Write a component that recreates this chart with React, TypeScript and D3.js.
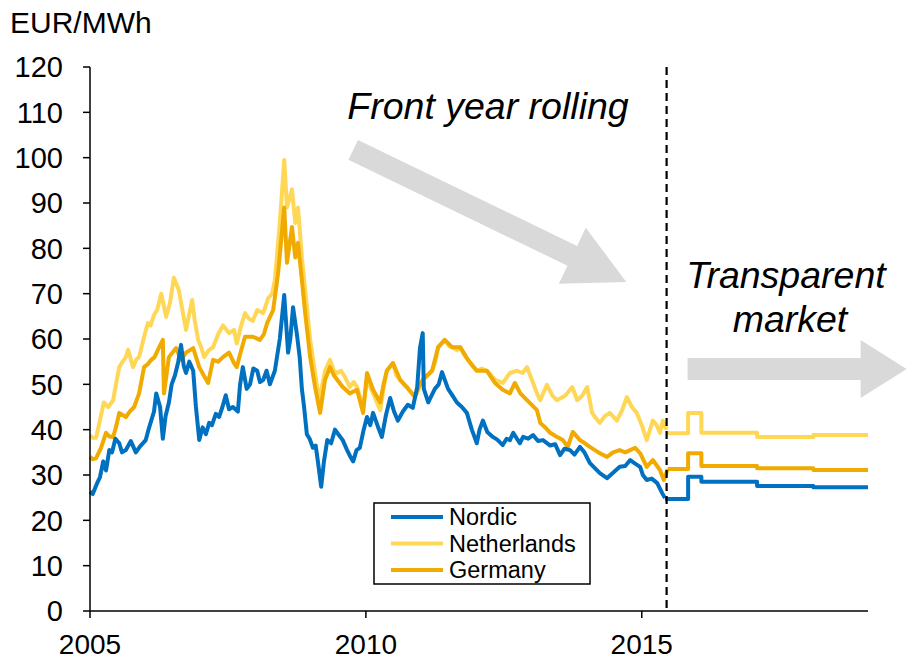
import * as d3 from "d3";
import React from "react";

// chart values: [year, EUR/MWh]
const nordicHist: [number, number][] = [
  [2005.0, 26.3], [2005.05, 25.8], [2005.09, 27], [2005.14, 28.5], [2005.18, 29.5], [2005.24, 33], [2005.29, 31],
  [2005.35, 35.5], [2005.4, 35], [2005.46, 38], [2005.53, 37], [2005.58, 35], [2005.65, 35.5], [2005.74, 37.5],
  [2005.83, 35], [2005.92, 36.5], [2006.01, 37.7], [2006.06, 40], [2006.11, 42], [2006.16, 44],
  [2006.2, 48], [2006.27, 45], [2006.32, 38], [2006.37, 43], [2006.43, 46], [2006.48, 50], [2006.54, 52],
  [2006.6, 55], [2006.65, 58.7], [2006.7, 54], [2006.74, 52.5], [2006.8, 55], [2006.87, 53], [2006.92, 45],
  [2006.98, 37.7], [2007.04, 40.5], [2007.1, 39], [2007.16, 41.5], [2007.21, 41], [2007.28, 43.5], [2007.34, 42.8],
  [2007.4, 45], [2007.46, 47.6], [2007.52, 44.5], [2007.59, 45], [2007.68, 44], [2007.72, 50], [2007.77, 53.8],
  [2007.84, 49], [2007.9, 50], [2007.96, 53.5], [2008.03, 53], [2008.08, 50.5],
  [2008.14, 51], [2008.2, 53], [2008.26, 50], [2008.35, 53], [2008.44, 60], [2008.52, 69.7], [2008.59, 57],
  [2008.63, 60], [2008.68, 67], [2008.75, 61], [2008.8, 56], [2008.84, 49], [2008.88, 45], [2008.93, 39],
  [2008.98, 38], [2009.04, 36], [2009.09, 36.5], [2009.13, 33],
  [2009.19, 27.4], [2009.24, 33], [2009.3, 37.7], [2009.37, 37], [2009.44, 40], [2009.5, 39], [2009.58, 37.7],
  [2009.66, 35.5], [2009.72, 34], [2009.77, 33], [2009.83, 35.5], [2009.89, 36],
  [2009.96, 40], [2010.02, 42.8], [2010.08, 41], [2010.13, 43.7], [2010.22, 40.6], [2010.29, 38.4], [2010.36, 43],
  [2010.44, 47], [2010.51, 44], [2010.58, 42],
  [2010.67, 44], [2010.76, 45.5], [2010.85, 44.8], [2010.93, 49.4], [2010.98, 58], [2011.03, 61.3], [2011.05, 49],
  [2011.13, 46], [2011.25, 49], [2011.32, 50], [2011.38, 52.7], [2011.43, 51], [2011.49, 49], [2011.57, 47.5],
  [2011.65, 46], [2011.74, 45], [2011.83, 43.7], [2011.92, 40],
  [2012.01, 37], [2012.06, 40], [2012.12, 42], [2012.2, 39.5], [2012.3, 38.4], [2012.38, 37.8], [2012.48, 36.6],
  [2012.55, 38], [2012.61, 37.7], [2012.67, 39.3],
  [2012.79, 37], [2012.85, 38.4], [2012.94, 38], [2013.03, 38.8], [2013.12, 37.5], [2013.21, 37.7], [2013.34, 36.5],
  [2013.43, 36.8], [2013.52, 34.4], [2013.6, 35.8],
  [2013.7, 35.5], [2013.78, 34.5], [2013.88, 36.2], [2013.96, 35], [2014.06, 32.6], [2014.15, 31.5], [2014.24, 30.4],
  [2014.37, 29.3], [2014.48, 30.5], [2014.6, 31.8], [2014.7, 32],
  [2014.79, 33.3], [2014.88, 32.5], [2014.97, 31.8], [2015.02, 30], [2015.09, 28.9], [2015.18, 29.2], [2015.28, 28.2],
  [2015.37, 26], [2015.42, 24.9],
];
const nordicFwd: [number, number][] = [
  [2015.42, 24.7], [2015.84, 29.6], [2016.08, 28.5], [2017.09, 27.6], [2018.11, 27.3], [2019.1, 27.3],
];

const netherlandsHist: [number, number][] = [
  [2005.0, 38.8], [2005.05, 38.2], [2005.11, 38.2], [2005.18, 42], [2005.25, 46], [2005.33, 45], [2005.42, 46.5],
  [2005.47, 50], [2005.53, 53.8], [2005.59, 55], [2005.65, 56], [2005.69, 57.6], [2005.78, 53.8], [2005.84, 55.5],
  [2005.89, 56], [2005.98, 60.5],
  [2006.05, 63.5], [2006.1, 63], [2006.16, 65.3], [2006.22, 66.5], [2006.29, 70], [2006.38, 64.9], [2006.45, 68],
  [2006.52, 73.5], [2006.61, 70.8],
  [2006.68, 66], [2006.74, 62], [2006.85, 68.6], [2006.9, 64], [2006.96, 59.8], [2007.02, 58], [2007.07, 56],
  [2007.15, 57.5], [2007.23, 58.2], [2007.32, 61], [2007.41, 63],
  [2007.52, 61.3], [2007.61, 62], [2007.66, 59], [2007.74, 63], [2007.81, 65.7], [2007.88, 64.5], [2007.95, 64],
  [2008.03, 66.4], [2008.14, 65.7], [2008.23, 69], [2008.3, 70], [2008.35, 73], [2008.44, 85.6], [2008.52, 99.5],
  [2008.57, 89], [2008.66, 93], [2008.72, 85.6], [2008.77, 89], [2008.84, 78], [2008.9, 70.8], [2008.99, 59.8],
  [2009.08, 52.5], [2009.15, 46.5], [2009.21, 50], [2009.26, 53], [2009.35, 55.4], [2009.42, 53], [2009.48, 52.5],
  [2009.55, 53], [2009.62, 51.6],
  [2009.71, 49.4], [2009.78, 50.5], [2009.84, 49.4], [2009.95, 45], [2010.02, 51], [2010.13, 48], [2010.26, 44.3],
  [2010.32, 49], [2010.38, 53], [2010.49, 54.7], [2010.55, 52], [2010.62, 51], [2010.74, 49.4], [2010.8, 48.5],
  [2010.89, 47.2], [2010.96, 49], [2011.03, 51],
  [2011.2, 53], [2011.26, 55], [2011.31, 58.2], [2011.43, 59.8], [2011.5, 58.5], [2011.56, 58.2], [2011.65, 57.5],
  [2011.71, 58.2], [2011.78, 56.5], [2011.85, 55.4], [2011.93, 54],
  [2012.01, 53], [2012.1, 53.5], [2012.19, 53], [2012.27, 52], [2012.34, 51], [2012.48, 50.3], [2012.61, 52.5],
  [2012.74, 53], [2012.84, 52.5],
  [2012.92, 53.8], [2013.03, 50.3], [2013.1, 48], [2013.16, 46.5], [2013.28, 49.9], [2013.38, 47.5], [2013.46, 46.5],
  [2013.61, 47.5], [2013.74, 49.4], [2013.83, 46.5], [2013.92, 47.5], [2014.01, 49.4], [2014.1, 43.7],
  [2014.17, 42.5], [2014.24, 41.5], [2014.33, 43], [2014.42, 43.7],
  [2014.55, 42], [2014.65, 44.5], [2014.73, 47.2], [2014.82, 45], [2014.91, 43.7], [2015.0, 41], [2015.09, 37.7],
  [2015.2, 42], [2015.27, 41], [2015.33, 39.3], [2015.38, 42], [2015.45, 40],
];
const netherlandsFwd: [number, number][] = [
  [2015.45, 39.2], [2015.84, 43.7], [2016.08, 39.3], [2017.09, 38.4], [2018.11, 38.8], [2019.1, 38.8],
];

const germanyHist: [number, number][] = [
  [2005.0, 34], [2005.05, 33.5], [2005.11, 33.7], [2005.2, 36], [2005.29, 39.3], [2005.35, 38.5], [2005.42, 38.4],
  [2005.48, 41], [2005.53, 43.7],
  [2005.65, 42.8], [2005.72, 44], [2005.8, 45], [2005.89, 48], [2005.98, 53.8], [2006.05, 54.5], [2006.11, 55.4],
  [2006.17, 56], [2006.23, 57.6], [2006.32, 59.8], [2006.34, 48], [2006.43, 56], [2006.56, 58], [2006.65, 55.4],
  [2006.74, 57], [2006.87, 58], [2006.98, 53.8], [2007.06, 52], [2007.14, 50.3], [2007.23, 55.4], [2007.32, 55],
  [2007.41, 56], [2007.52, 57],
  [2007.61, 54.7], [2007.66, 53.8], [2007.74, 57.5], [2007.81, 60.5], [2007.95, 60.5], [2008.08, 59.8],
  [2008.15, 61], [2008.21, 63.5],
  [2008.32, 66.4], [2008.41, 74.6], [2008.52, 89], [2008.57, 76.8], [2008.66, 84.7], [2008.72, 78],
  [2008.77, 81.2], [2008.84, 73], [2008.9, 65.7], [2008.99, 56], [2009.08, 49.4], [2009.17, 43.7],
  [2009.26, 51], [2009.35, 53.8], [2009.42, 52], [2009.48, 51], [2009.58, 49.4], [2009.71, 48], [2009.84, 48.8],
  [2009.95, 43.7], [2010.02, 52.5], [2010.13, 48.8], [2010.26, 46], [2010.32, 50], [2010.38, 53], [2010.49, 54.7],
  [2010.62, 51], [2010.74, 49.4], [2010.89, 47.2], [2010.96, 49.5], [2011.03, 51], [2011.2, 53], [2011.31, 58.2],
  [2011.43, 59.8], [2011.56, 58.2], [2011.71, 58.2], [2011.85, 55.4], [2012.01, 53], [2012.19, 53],
  [2012.34, 50.3], [2012.48, 48.8], [2012.61, 48], [2012.7, 50.3], [2012.8, 48], [2012.92, 46.5], [2013.1, 44.3],
  [2013.16, 41.5], [2013.25, 40.5], [2013.34, 39.3], [2013.45, 38.5], [2013.57, 37.7], [2013.66, 36.2],
  [2013.75, 39.5], [2013.88, 37.7], [2013.97, 37],
  [2014.06, 36.2], [2014.15, 35.5], [2014.24, 34.8], [2014.37, 34], [2014.48, 35], [2014.6, 35.5], [2014.7, 35],
  [2014.79, 35.5], [2014.88, 36], [2014.97, 34.8],
  [2015.09, 31.8], [2015.2, 33.3], [2015.33, 31.1], [2015.4, 28.9], [2015.47, 31.3],
];
const germanyFwd: [number, number][] = [
  [2015.47, 31.3], [2015.84, 34.8], [2016.08, 32], [2017.09, 31.5], [2018.11, 31.1], [2019.1, 31.1],
];

const yTicks = [0, 10, 20, 30, 40, 50, 60, 70, 80, 90, 100, 110, 120];
const xTicks = [2005, 2010, 2015];
const cutover = 2015.45;

const series = [
  { name: "Netherlands", color: "#FFD757", hist: netherlandsHist, fwd: netherlandsFwd },
  { name: "Germany", color: "#F0AA00", hist: germanyHist, fwd: germanyFwd },
  { name: "Nordic", color: "#0070C0", hist: nordicHist, fwd: nordicFwd },
];
const legendOrder = ["Nordic", "Netherlands", "Germany"];

const font = "Arial, 'Liberation Sans', sans-serif";

function arrowPath(x0: number, y0: number, x1: number, y1: number, w: number, h: number, len: number) {
  const dx = x1 - x0, dy = y1 - y0;
  const d = Math.hypot(dx, dy);
  const ux = dx / d, uy = dy / d;
  const nx = -uy, ny = ux;
  const bx = x1 - ux * len, by = y1 - uy * len;
  const pts = [
    [x0 + nx * w, y0 + ny * w],
    [bx + nx * w, by + ny * w],
    [bx + nx * h, by + ny * h],
    [x1, y1],
    [bx - nx * h, by - ny * h],
    [bx - nx * w, by - ny * w],
    [x0 - nx * w, y0 - ny * w],
  ];
  return "M" + pts.map((p) => p.join(",")).join("L") + "Z";
}

export default function App() {
  const width = 907;
  const height = 662;

  const x = d3.scaleLinear().domain([2005, 2019.1]).range([90, 868]);
  const y = d3.scaleLinear().domain([0, 120]).range([611, 67]);

  const lineHist = d3.line<[number, number]>().x((d) => x(d[0])).y((d) => y(d[1]));
  const lineFwd = d3
    .line<[number, number]>()
    .x((d) => x(d[0]))
    .y((d) => y(d[1]))
    .curve(d3.curveStepAfter);

  const a1 = arrowPath(x(2009.77), y(101.7), x(2014.72), y(72.6), 11, 31, 60);
  const a2 = arrowPath(x(2015.83), y(53.4), x(2019.8), y(53.4), 11, 29, 46);

  return (
    <svg width={width} height={height} style={{ display: "block", position: "absolute", left: 0, top: 0 }}>
      <rect width={width} height={height} fill="#fff" />

      {/* annotations */}
      <path d={a1} fill="#D9D9D9" />
      <path d={a2} fill="#D9D9D9" />
      <text x={488} y={119} textAnchor="middle" fontFamily={font} fontStyle="italic" fontSize={37.5} fill="#000">
        Front year rolling
      </text>
      <text x={786} y={288} textAnchor="middle" fontFamily={font} fontStyle="italic" fontSize={37.5} fill="#000">
        Transparent
      </text>
      <text x={790} y={332} textAnchor="middle" fontFamily={font} fontStyle="italic" fontSize={37.5} fill="#000">
        market
      </text>

      {/* lines */}
      {series.map((s) => (
        <g key={s.name} fill="none" stroke={s.color} strokeWidth={4} strokeLinejoin="round">
          <path d={lineHist(s.hist) || ""} />
          <path d={lineFwd(s.fwd) || ""} />
        </g>
      ))}

      {/* cut-over line */}
      <line x1={x(cutover)} x2={x(cutover)} y1={y(120)} y2={y(0)} stroke="#000" strokeWidth={2.2} strokeDasharray="8,5" />

      {/* axes */}
      <line x1={x(2005)} x2={x(2005)} y1={y(120)} y2={y(0)} stroke="#000" strokeWidth={1.5} />
      <line x1={x(2005)} x2={x(2019.1)} y1={y(0)} y2={y(0)} stroke="#000" strokeWidth={1.5} />
      {yTicks.map((t) => (
        <g key={t}>
          <line x1={x(2005) - 7} x2={x(2005)} y1={y(t)} y2={y(t)} stroke="#000" strokeWidth={1.5} />
          <text x={63} y={y(t)} dy="0.36em" textAnchor="end" fontFamily={font} fontSize={29} fill="#000">
            {t}
          </text>
        </g>
      ))}
      {xTicks.map((t) => (
        <g key={t}>
          <line x1={x(t)} x2={x(t)} y1={y(0)} y2={y(0) + 7} stroke="#000" strokeWidth={1.5} />
          <text x={x(t)} y={654} textAnchor="middle" fontFamily={font} fontSize={28} fill="#000">
            {t}
          </text>
        </g>
      ))}
      <text x={10} y={33} fontFamily={font} fontSize={30} fill="#000">
        EUR/MWh
      </text>

      {/* legend */}
      <rect x={374} y={503} width={216} height={81} fill="#fff" stroke="#000" strokeWidth={1.5} />
      {legendOrder.map((n, i) => {
        const s = series.find((d) => d.name === n)!;
        const ly = 517 + i * 26.5;
        return (
          <g key={n}>
            <line x1={391} x2={443} y1={ly} y2={ly} stroke={s.color} strokeWidth={4} />
            <text x={449} y={ly} dy="0.36em" fontFamily={font} fontSize={23.5} fill="#000">
              {n}
            </text>
          </g>
        );
      })}
    </svg>
  );
}
